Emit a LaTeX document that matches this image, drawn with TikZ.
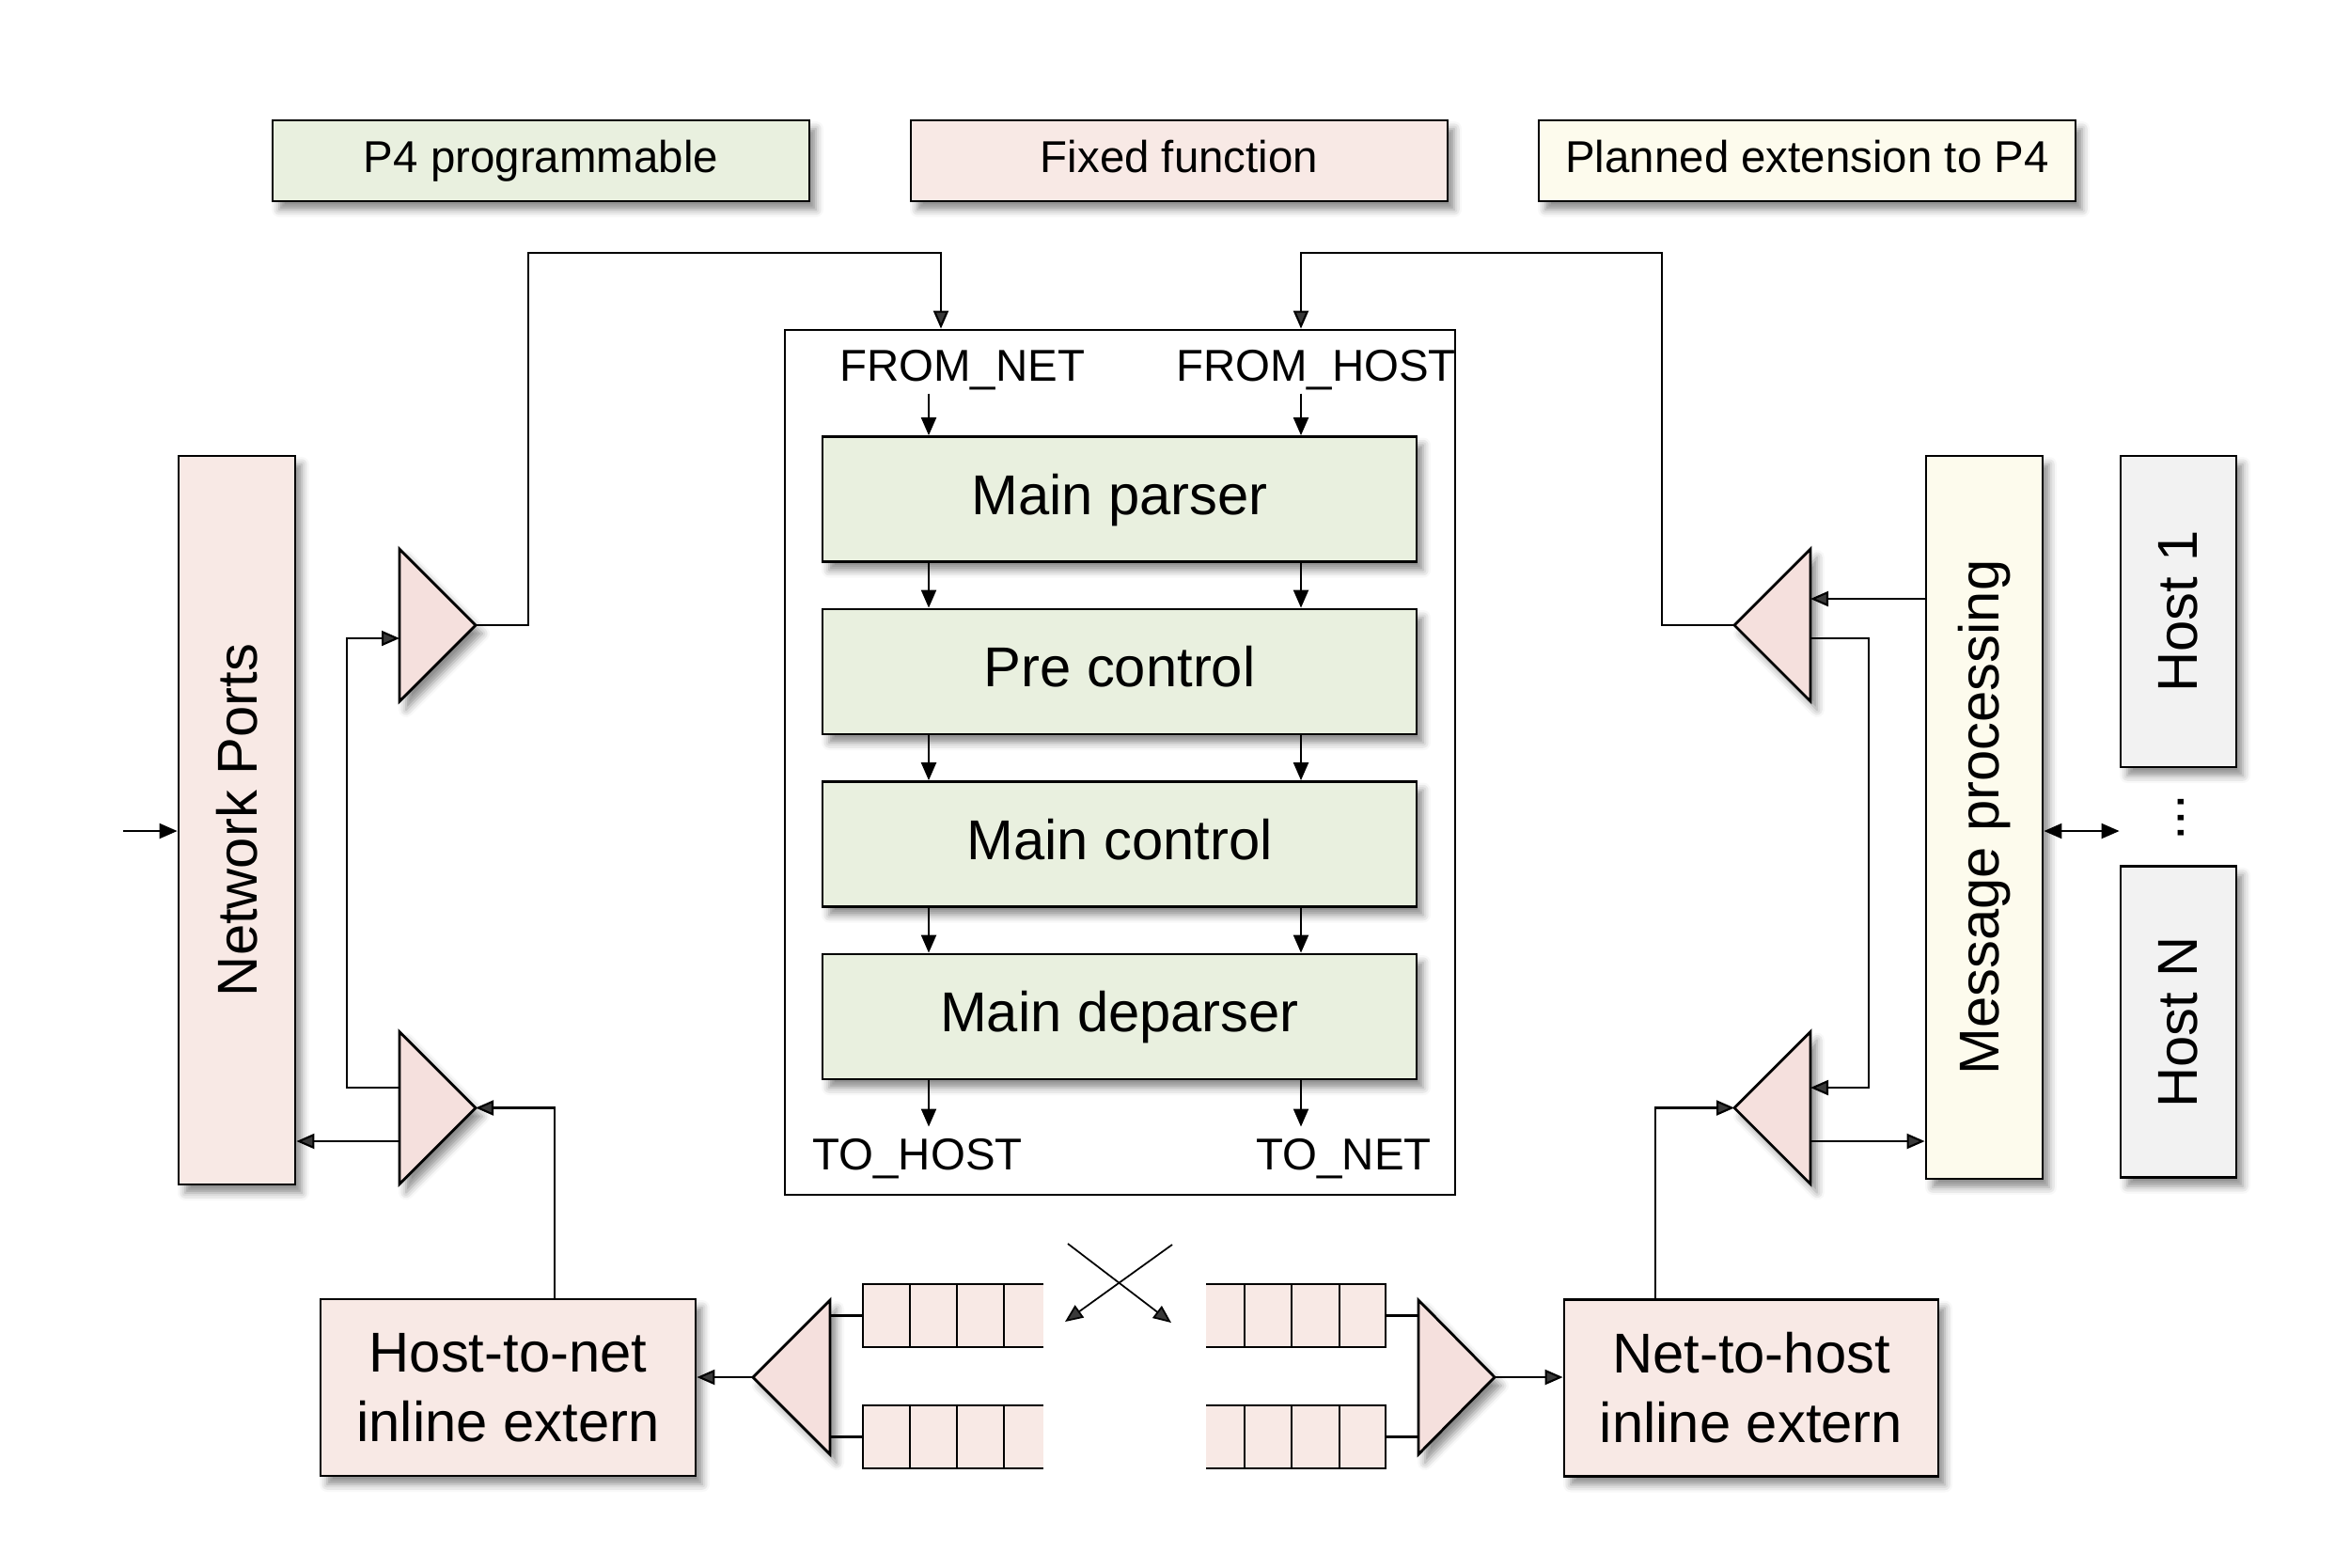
\documentclass[tikz,border=0pt]{standalone}
\usepackage{fontspec}
\setmainfont{Liberation Sans}
\usepackage{xcolor}
\usepackage{tikz}
\usetikzlibrary{calc, positioning, arrows.meta, shadows.blur}

\definecolor{progfill}{RGB}{233,240,223}
\definecolor{fixfill}{RGB}{248,233,229}
\definecolor{planfill}{RGB}{253,251,237}
\definecolor{hostfill}{RGB}{242,242,242}
\definecolor{muxfill}{RGB}{245,224,221}

\tikzset{
    softshadow/.style={blur shadow={shadow xshift=0.07cm, shadow yshift=-0.09cm, shadow blur radius=0.08cm, shadow opacity=45}},
    box/.style={draw, line width=0.8pt, inner sep=0, align=center, softshadow},
    bigline/.style={text height=12.7pt, text depth=3.6pt},
    smallline/.style={text height=10.1pt, text depth=2.8pt},
}

\begin{document}
\begin{tikzpicture}[
    prog/.style={box, fill=progfill},
    fix/.style={box, fill=fixfill},
    plan/.style={box, fill=planfill},
    hostbox/.style={box, fill=hostfill},
    mux/.style={draw, line width=0.8pt, fill=muxfill, line join=miter, softshadow},
    wire/.style={line width=0.6pt},
    arr/.style={wire, -{Triangle[length=1.9mm, width=1.6mm]}},
    arrboth/.style={wire, {Triangle[length=1.9mm, width=1.6mm]}-{Triangle[length=1.9mm, width=1.6mm]}},
    big/.style={font=\fontsize{17}{21}\selectfont},
    small/.style={font=\fontsize{13.5}{16}\selectfont},
]
\useasboundingbox (0,0) rectangle (25,-16.67);

% legend
\node[prog, small, smallline, minimum width=5.71cm, minimum height=0.86cm] (legprog) at (5.755,-1.71) {P4 programmable};
\node[fix, small, smallline, minimum width=5.71cm, minimum height=0.86cm] (legfix) at (12.545,-1.71) {Fixed function};
\node[plan, small, smallline, minimum width=5.71cm, minimum height=0.86cm] (legplan) at (19.225,-1.71) {Planned extension to P4};

% pipeline
\node[draw, line width=0.8pt, minimum width=7.13cm, minimum height=9.2cm] (core) at (11.915,-8.11) {};
\foreach \t [count=\n] in {Main parser,Pre control,Main control,Main deparser}
    \node[prog, big, bigline, minimum width=6.32cm, minimum height=1.33cm] (blk\n) at (11.91,{-5.31-1.835*(\n-1)}) {\t};

\coordinate (colL) at (9.88,0);
\coordinate (colR) at (13.84,0);
\coordinate (colLtop) at (10.01,0);
\coordinate (toprow) at (0,-2.69);

\node[small, inner sep=0] (fromnet) at (10.235,-3.935) {FROM\_NET};
\node[small, inner sep=0] (fromhost) at (14.0,-3.935) {FROM\_HOST};
\node[small, inner sep=0] (tohost) at (9.76,-12.325) {TO\_HOST};
\node[small, inner sep=0] (tonet) at (14.295,-12.325) {TO\_NET};

% lines and text
\draw[arr, shorten <=0.03cm] (fromnet.south -| colL) -- (blk1.north -| colL);
\draw[arr, shorten <=0.03cm] (fromhost.south -| colR) -- (blk1.north -| colR);
\foreach \a/\b in {1/2,2/3,3/4}
{
    \draw[arr] (blk\a.south -| colL) -- (blk\b.north -| colL);
    \draw[arr] (blk\a.south -| colR) -- (blk\b.north -| colR);
}
\draw[arr, shorten >=0.12cm] (blk4.south -| colL) -- (tohost.north -| colL);
\draw[arr, shorten >=0.12cm] (blk4.south -| colR) -- (tonet.north -| colR);

% network side
\node[fix, big, minimum width=1.24cm, minimum height=7.75cm] (netports) at (2.52,-8.725) {\rotatebox{90}{Network Ports}};
\coordinate (netin) at (1.31,-8.84);
\draw[arr] (netin) -- (netin -| netports.west);

% host side
\node[plan, big, minimum width=1.24cm, minimum height=7.69cm] (msgproc) at (21.11,-8.695) {\rotatebox{90}{Message processing}};
\node[hostbox, big, minimum width=1.23cm, minimum height=3.31cm] (host1) at (23.175,-6.505) {\rotatebox{90}{Host 1}};
\node[hostbox, big, minimum width=1.23cm, minimum height=3.31cm, below=1.03cm of host1] (hostN) {\rotatebox{90}{Host N}};
\node[big, inner sep=0, anchor=east] (hdots) at (23.245,-8.70) {\rotatebox{90}{...}};
\coordinate (hlink) at (0,-8.84);
\draw[arrboth] (hlink -| msgproc.east) -- (hlink -| hostN.west);

% side muxes
\foreach \m/\bx/\tx/\y in {lmuxa/4.25/5.06/6.65, lmuxb/4.25/5.06/11.785, rmuxa/19.26/18.45/6.65, rmuxb/19.26/18.45/11.785}
{
    \filldraw[mux] (\bx,-\y+0.81) -- (\tx,-\y) -- (\bx,-\y-0.81) -- cycle;
    \coordinate (\m) at (\bx,-\y);
    \coordinate (\m tip) at (\tx,-\y);
}

% inline externs
\node[fix, big, minimum width=3.99cm, minimum height=1.88cm] (h2n) at (5.405,-14.76) {Host-to-net\\inline extern};
\node[fix, big, minimum width=3.98cm, minimum height=1.88cm] (n2h) at (18.63,-14.765) {Net-to-host\\inline extern};

% bottom muxes
\filldraw[mux] (8.83,-13.83) -- (8.01,-14.65) -- (8.83,-15.47) -- cycle;
\coordinate (bmuxltip) at (8.01,-14.65);
\filldraw[mux] (15.09,-13.83) -- (15.90,-14.65) -- (15.09,-15.47) -- cycle;
\coordinate (bmuxrtip) at (15.90,-14.65);

% queues
\foreach \q/\y in {qla/13.66, qlb/14.95}
{
    \fill[fixfill] (9.18,-\y) rectangle (11.10,-\y-0.67);
    \draw[line width=0.8pt] (11.10,-\y) -| (9.18,-\y-0.67) -- (11.10,-\y-0.67);
    \foreach \x in {9.68,10.18,10.68} \draw[wire] (\x,-\y) -- (\x,-\y-0.67);
    \coordinate (\q) at (9.18,-\y-0.335);
    \draw[wire] (\q) -- (\q -| 8.83,0);
}
\foreach \q/\y in {qra/13.66, qrb/14.95}
{
    \fill[fixfill] (12.83,-\y) rectangle (14.74,-\y-0.67);
    \draw[line width=0.8pt] (12.83,-\y) -| (14.74,-\y-0.67) -- (12.83,-\y-0.67);
    \foreach \x in {13.24,13.74,14.25} \draw[wire] (\x,-\y) -- (\x,-\y-0.67);
    \coordinate (\q) at (14.74,-\y-0.335);
    \draw[wire] (\q) -- (\q -| 15.09,0);
}

% crossing
\coordinate (xa1) at (11.36,-13.23);
\coordinate (xa2) at (12.46,-14.07);
\coordinate (xb1) at (12.47,-13.24);
\coordinate (xb2) at (11.33,-14.06);
\draw[arr, line width=0.5pt] (xa1) -- (xa2);
\draw[arr, line width=0.5pt] (xb1) -- (xb2);

% connectors left
\draw[arr] (lmuxatip) -- ++(0.56,0) |- (toprow -| colLtop) -- (core.north -| colLtop);
\draw[arr] ($(lmuxb)+(0,0.215)$) -- ++(-0.56,0) |- ($(lmuxa)+(0,-0.14)$);
\coordinate (lbout) at ($(lmuxb)+(0,-0.355)$);
\draw[arr] (lbout) -- (lbout -| netports.east);
\coordinate (h2nup) at (5.90,0);
\draw[arr] (h2n.north -| h2nup) |- (lmuxbtip);
\draw[arr] (bmuxltip) -- (bmuxltip -| h2n.east);

% connectors right
\draw[arr] (rmuxatip) -- ++(-0.77,0) |- (toprow -| colR) -- (core.north -| colR);
\coordinate (rain) at ($(rmuxa)+(0,0.28)$);
\draw[arr] (rain -| msgproc.west) -- (rain);
\draw[arr] ($(rmuxa)+(0,-0.14)$) -- ++(0.62,0) |- ($(rmuxb)+(0,0.215)$);
\coordinate (rbout) at ($(rmuxb)+(0,-0.355)$);
\draw[arr] (rbout) -- (rbout -| msgproc.west);
\coordinate (n2hup) at (17.61,0);
\draw[arr] (n2h.north -| n2hup) |- (rmuxbtip);
\draw[arr] (bmuxrtip) -- (bmuxrtip -| n2h.west);
\end{tikzpicture}
\end{document}
